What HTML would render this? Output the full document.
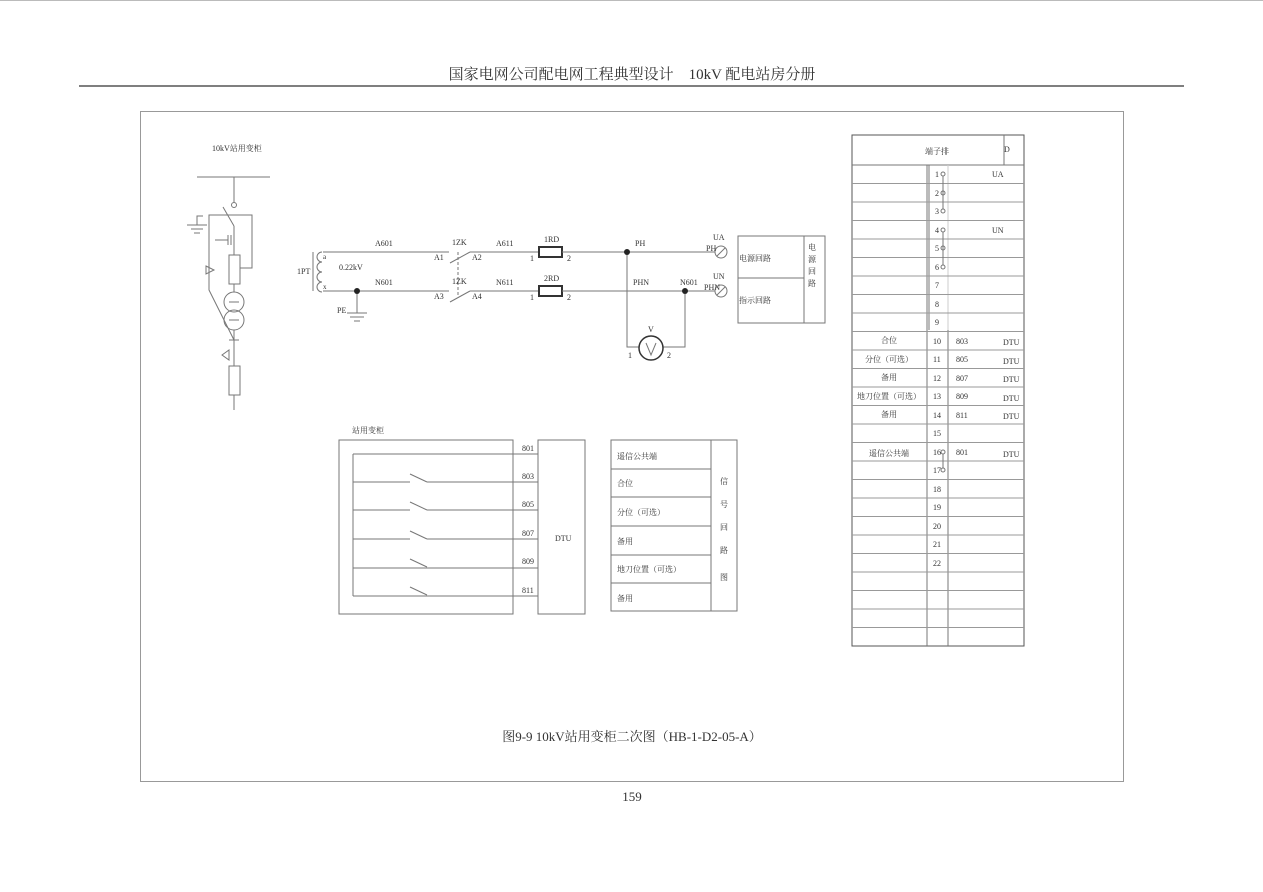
<!DOCTYPE html>
<html><head><meta charset="utf-8"><style>
html,body{margin:0;padding:0;background:#fff;}
svg{display:block;}
text{font-family:"Liberation Serif","Noto Serif CJK SC",serif;fill:#333;}
</style></head><body>
<svg width="1263" height="892" viewBox="0 0 1263 892" xmlns="http://www.w3.org/2000/svg">
<line x1="0" y1="0.5" x2="1263" y2="0.5" stroke="#bbb"/>
<text x="632" y="79" font-size="15" text-anchor="middle" fill="#222">国家电网公司配电网工程典型设计　10kV 配电站房分册</text>
<line x1="79" y1="86" x2="1184" y2="86" stroke="#333" stroke-width="1.2"/>
<rect x="140.5" y="111.5" width="983" height="670" fill="none" stroke="#999"/>
<g stroke="#777" fill="none" stroke-width="1">
<!-- left single-line -->
<line x1="197" y1="177" x2="270" y2="177"/>
<line x1="234" y1="177" x2="234" y2="202"/>
<circle cx="234" cy="205" r="2.5"/>
<line x1="223" y1="207" x2="234" y2="226"/>
<line x1="234" y1="226" x2="234" y2="255"/>
<polyline points="234,215 252,215 252,268 240,268"/>
<polyline points="234,215 209,215 209,290 234,340"/>
<line x1="187" y1="225" x2="207" y2="225"/><line x1="191" y1="229" x2="203" y2="229"/><line x1="194" y1="233" x2="200" y2="233"/>
<polyline points="197,225 197,216 203,216"/>
<line x1="215" y1="240" x2="228" y2="240"/><line x1="228" y1="235" x2="228" y2="245"/><line x1="231" y1="235" x2="231" y2="245"/>
<rect x="229" y="255" width="11" height="29"/>
<line x1="234" y1="284" x2="234" y2="292"/>
<circle cx="234" cy="302" r="10"/><circle cx="234" cy="320" r="10"/>
<line x1="229" y1="302" x2="239" y2="302"/><line x1="229" y1="320" x2="239" y2="320"/>
<line x1="234" y1="330" x2="234" y2="340"/><line x1="229" y1="340" x2="239" y2="340"/>
<polygon points="206,266 214,270 206,274"/>
<polygon points="222,355 229,350 229,360"/>
<line x1="234" y1="340" x2="234" y2="366"/>
<rect x="229" y="366" width="11" height="29"/>
<line x1="234" y1="395" x2="234" y2="410"/>
<!-- transformer -->
<line x1="313" y1="252" x2="313" y2="291"/>
<path d="M322,252 a5,5 0 1,0 0,10 a5,5 0 1,0 0,10 a5,5 0 1,0 0,10 a5,5 0 1,0 0,10"/>
<line x1="323" y1="252" x2="449" y2="252"/>
<line x1="323" y1="291" x2="449" y2="291"/>
<line x1="450" y1="263" x2="470" y2="252"/><line x1="450" y1="302" x2="470" y2="291"/>
<line x1="458" y1="252" x2="458" y2="296" stroke-dasharray="3,2"/>
<line x1="470" y1="252" x2="539" y2="252"/><line x1="470" y1="291" x2="539" y2="291"/>
<rect x="539" y="247" width="23" height="10" stroke="#333" stroke-width="2"/>
<rect x="539" y="286" width="23" height="10" stroke="#333" stroke-width="2"/>
<line x1="562" y1="252" x2="715" y2="252"/>
<line x1="562" y1="291" x2="715" y2="291"/>
<line x1="357" y1="291" x2="357" y2="313"/>
<line x1="347" y1="313" x2="367" y2="313"/><line x1="350" y1="317" x2="364" y2="317"/><line x1="354" y1="321" x2="360" y2="321"/>
<polyline points="627,252 627,347 639,347"/>
<polyline points="685,291 685,347 663,347"/>
<circle cx="651" cy="348" r="12" stroke="#333" stroke-width="1.5"/>
<polyline points="646,343 651,355 656,343"/>
<circle cx="721" cy="252" r="6"/><line x1="717" y1="256" x2="725" y2="248"/>
<circle cx="721" cy="291" r="6"/><line x1="717" y1="295" x2="725" y2="287"/>
<rect x="738" y="236" width="87" height="87"/>
<line x1="804" y1="236" x2="804" y2="323"/><line x1="738" y1="278" x2="804" y2="278"/>
<!-- lower left -->
<rect x="339" y="440" width="174" height="174"/>
<line x1="353" y1="454" x2="353" y2="596"/>
<line x1="353" y1="454" x2="538" y2="454"/>
<g>
<line x1="353" y1="482" x2="410" y2="482"/><line x1="410" y1="474" x2="427" y2="482"/><line x1="427" y1="482" x2="538" y2="482"/>
<line x1="353" y1="510" x2="410" y2="510"/><line x1="410" y1="502" x2="427" y2="510"/><line x1="427" y1="510" x2="538" y2="510"/>
<line x1="353" y1="539" x2="410" y2="539"/><line x1="410" y1="531" x2="427" y2="539"/><line x1="427" y1="539" x2="538" y2="539"/>
<line x1="353" y1="568" x2="538" y2="568"/><line x1="410" y1="559" x2="427" y2="567"/>
<line x1="353" y1="596" x2="538" y2="596"/><line x1="410" y1="587" x2="427" y2="595"/>
</g>
<rect x="538" y="440" width="47" height="174"/>
<rect x="611" y="440" width="126" height="171"/>
<line x1="711" y1="440" x2="711" y2="611"/>
<line x1="611" y1="469" x2="711" y2="469"/><line x1="611" y1="497" x2="711" y2="497"/><line x1="611" y1="526" x2="711" y2="526"/><line x1="611" y1="555" x2="711" y2="555"/><line x1="611" y1="583" x2="711" y2="583"/>
<!-- terminal table -->
<rect x="852" y="135" width="172" height="511" stroke="#555"/>
<line x1="852" y1="165" x2="1024" y2="165"/>
<line x1="1004" y1="135" x2="1004" y2="165"/>
<line x1="927" y1="165" x2="927" y2="646"/><line x1="929" y1="165" x2="929" y2="330"/>
<line x1="948" y1="330" x2="948" y2="646"/>
<line x1="948" y1="165" x2="948" y2="330" stroke="#ccc"/>
</g>
<g stroke="#999">
<line x1="852" y1="183.5" x2="1024" y2="183.5"/><line x1="852" y1="202" x2="1024" y2="202"/><line x1="852" y1="220.5" x2="1024" y2="220.5"/><line x1="852" y1="239" x2="1024" y2="239"/><line x1="852" y1="257.5" x2="1024" y2="257.5"/><line x1="852" y1="276" x2="1024" y2="276"/><line x1="852" y1="294.5" x2="1024" y2="294.5"/><line x1="852" y1="313" x2="1024" y2="313"/><line x1="852" y1="331.5" x2="1024" y2="331.5"/><line x1="852" y1="350" x2="1024" y2="350"/><line x1="852" y1="368.5" x2="1024" y2="368.5"/><line x1="852" y1="387" x2="1024" y2="387"/><line x1="852" y1="405.5" x2="1024" y2="405.5"/><line x1="852" y1="424" x2="1024" y2="424"/><line x1="852" y1="442.5" x2="1024" y2="442.5"/><line x1="852" y1="461" x2="1024" y2="461"/><line x1="852" y1="479.5" x2="1024" y2="479.5"/><line x1="852" y1="498" x2="1024" y2="498"/><line x1="852" y1="516.5" x2="1024" y2="516.5"/><line x1="852" y1="535" x2="1024" y2="535"/><line x1="852" y1="553.5" x2="1024" y2="553.5"/><line x1="852" y1="572" x2="1024" y2="572"/><line x1="852" y1="590.5" x2="1024" y2="590.5"/><line x1="852" y1="609" x2="1024" y2="609"/><line x1="852" y1="627.5" x2="1024" y2="627.5"/>
</g>
<g stroke="#777" fill="#fff">
<circle cx="943" cy="174" r="2"/><circle cx="943" cy="193" r="2"/><circle cx="943" cy="211" r="2"/>
<circle cx="943" cy="230" r="2"/><circle cx="943" cy="248" r="2"/><circle cx="943" cy="267" r="2"/>
<circle cx="943" cy="452" r="2"/><circle cx="943" cy="470" r="2"/>
<line x1="943" y1="176" x2="943" y2="209"/><line x1="943" y1="232" x2="943" y2="265"/><line x1="943" y1="454" x2="943" y2="468"/>
</g>
<g fill="#222">
<circle cx="357" cy="291" r="3"/><circle cx="627" cy="252" r="3"/><circle cx="685" cy="291" r="3"/>
</g>
<g font-size="8">
<text x="212" y="151">10kV站用变柜</text>
<text x="297" y="274">1PT</text><text x="323" y="259" font-size="7">a</text><text x="323" y="289" font-size="7">x</text>
<text x="339" y="270">0.22kV</text>
<text x="375" y="246">A601</text><text x="375" y="285">N601</text>
<text x="452" y="245">1ZK</text><text x="452" y="284">1ZK</text>
<text x="434" y="260">A1</text><text x="472" y="260">A2</text><text x="434" y="299">A3</text><text x="472" y="299">A4</text>
<text x="496" y="246">A611</text><text x="496" y="285">N611</text>
<text x="544" y="242">1RD</text><text x="544" y="281">2RD</text>
<text x="530" y="261">1</text><text x="567" y="261">2</text><text x="530" y="300">1</text><text x="567" y="300">2</text>
<text x="635" y="246">PH</text><text x="633" y="285">PHN</text><text x="680" y="285">N601</text>
<text x="337" y="313">PE</text>
<text x="713" y="240">UA</text><text x="706" y="251">PH</text>
<text x="713" y="279">UN</text><text x="704" y="290">PHN</text>
<text x="648" y="332">V</text><text x="628" y="358">1</text><text x="667" y="358">2</text>
<text x="739" y="261">电源回路</text><text x="739" y="303">指示回路</text>
<text x="808" y="250">电</text><text x="808" y="262">源</text><text x="808" y="274">回</text><text x="808" y="286">路</text>
<text x="352" y="433">站用变柜</text>
<text x="522" y="451">801</text><text x="522" y="479">803</text><text x="522" y="507">805</text><text x="522" y="536">807</text><text x="522" y="564">809</text><text x="522" y="593">811</text>
<text x="555" y="541">DTU</text>
<text x="617" y="459">遥信公共端</text><text x="617" y="486">合位</text><text x="617" y="515">分位（可选）</text><text x="617" y="544">备用</text><text x="617" y="572">地刀位置（可选）</text><text x="617" y="601">备用</text>
<text x="720" y="484">信</text><text x="720" y="507">号</text><text x="720" y="530">回</text><text x="720" y="553">路</text><text x="720" y="580">图</text>
<text x="925" y="154">端子排</text><text x="1004" y="152">D</text>
<text x="935" y="177">1</text><text x="935" y="196">2</text><text x="935" y="214">3</text><text x="935" y="233">4</text><text x="935" y="251">5</text><text x="935" y="270">6</text><text x="935" y="288">7</text><text x="935" y="307">8</text><text x="935" y="325">9</text>
<text x="933" y="344">10</text><text x="933" y="362">11</text><text x="933" y="381">12</text><text x="933" y="399">13</text><text x="933" y="418">14</text><text x="933" y="436">15</text><text x="933" y="455">16</text><text x="933" y="473">17</text><text x="933" y="492">18</text><text x="933" y="510">19</text><text x="933" y="529">20</text><text x="933" y="547">21</text><text x="933" y="566">22</text>
<text x="992" y="177">UA</text><text x="992" y="233">UN</text>
<text x="956" y="344">803</text><text x="956" y="362">805</text><text x="956" y="381">807</text><text x="956" y="399">809</text><text x="956" y="418">811</text><text x="956" y="455">801</text>
<text x="1003" y="345">DTU</text><text x="1003" y="364">DTU</text><text x="1003" y="382">DTU</text><text x="1003" y="401">DTU</text><text x="1003" y="419">DTU</text><text x="1003" y="457">DTU</text>
<g text-anchor="middle"><text x="889" y="343">合位</text><text x="889" y="362">分位（可选）</text><text x="889" y="380">备用</text><text x="889" y="399">地刀位置（可选）</text><text x="889" y="417">备用</text><text x="889" y="456">遥信公共端</text></g>
</g>
<text x="632" y="741" font-size="13" text-anchor="middle">图9-9 10kV站用变柜二次图（HB-1-D2-05-A）</text>
<text x="632" y="801" font-size="13" text-anchor="middle">159</text>
</svg>
</body></html>
